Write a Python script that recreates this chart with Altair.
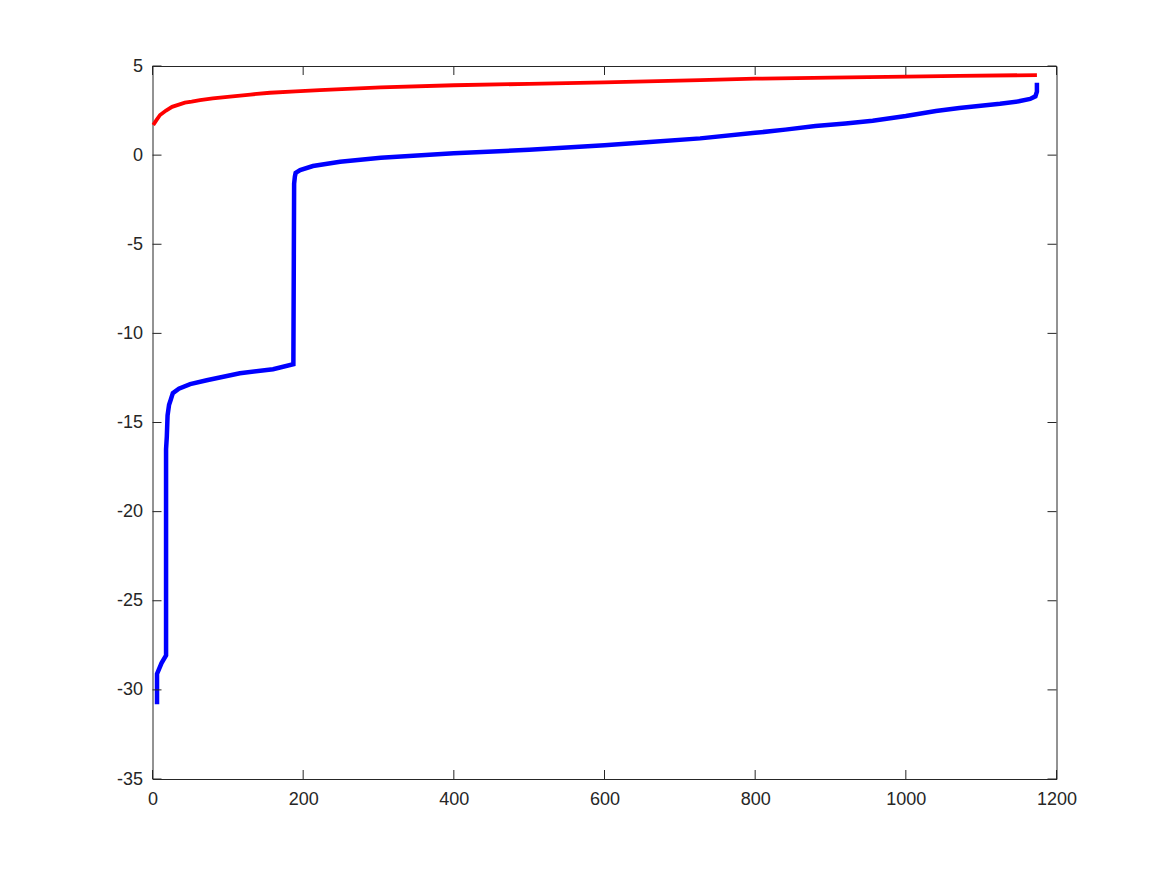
import altair as alt
import pandas as pd

# Blue series (sorted values)
blue_x = [6, 6, 6, 12, 18, 18, 19, 20, 22, 24, 27, 35, 50, 72, 116, 160, 187,
          188, 189, 190, 196, 213, 249, 303, 400, 500, 600, 660, 727, 800, 840,
          880, 920, 956, 1000, 1040, 1071, 1125, 1150, 1165, 1172, 1174, 1174]
blue_y = [-30.8, -29.9, -29.1, -28.5, -28.07, -16.5, -15.8, -14.6, -14.0, -13.75,
          -13.35, -13.1, -12.85, -12.63, -12.24, -12.01, -11.73,
          -1.6, -1.2, -1.0, -0.84, -0.61, -0.37, -0.15, 0.1, 0.3, 0.56, 0.73,
          0.94, 1.25, 1.43, 1.63, 1.78, 1.93, 2.19, 2.47, 2.64, 2.88, 3.02,
          3.15, 3.3, 3.56, 4.06]

# Red series
red_x = [1, 5, 10, 18, 26, 35, 43, 52, 63, 80, 103, 130, 156, 190, 222, 303,
         400, 500, 600, 727, 800, 900, 1000, 1071, 1174]
red_y = [1.69, 1.95, 2.25, 2.5, 2.71, 2.83, 2.94, 3.0, 3.09, 3.18, 3.28, 3.4,
         3.5, 3.58, 3.65, 3.8, 3.92, 4.0, 4.08, 4.21, 4.29, 4.35, 4.4, 4.45, 4.49]

x_ticks = [0, 200, 400, 600, 800, 1000, 1200]
y_ticks = [-35, -30, -25, -20, -15, -10, -5, 0, 5]

W, H = 904, 713
TICK = 9

blue_df = pd.DataFrame({"x": blue_x, "y": blue_y, "i": range(len(blue_x))})
red_df = pd.DataFrame({"x": red_x, "y": red_y, "i": range(len(red_x))})
xt_df = pd.DataFrame({"t": x_ticks})
yt_df = pd.DataFrame({"t": y_ticks})

xscale = alt.Scale(domain=[0, 1200], nice=False, zero=False)
yscale = alt.Scale(domain=[-35, 5], nice=False, zero=False)

xaxis = alt.Axis(values=x_ticks, ticks=False, domain=False, grid=False,
                 labelPadding=11, labelFontSize=18, labelColor="#262626",
                 labelFont="Liberation Sans", labelFlush=False,
                 labelExpr="'' + datum.value", title=None)
yaxis = alt.Axis(values=y_ticks, ticks=False, domain=False, grid=False,
                 labelPadding=10, labelFontSize=18, labelColor="#262626",
                 labelFont="Liberation Sans", labelFlush=False,
                 labelExpr="'' + datum.value", title=None)

blue = alt.Chart(blue_df).mark_line(color="#0000FF", strokeWidth=4.5).encode(
    x=alt.X("x:Q", scale=xscale, axis=xaxis),
    y=alt.Y("y:Q", scale=yscale, axis=yaxis),
    order="i:Q",
)
red = alt.Chart(red_df).mark_line(color="#FF0000", strokeWidth=3.8).encode(
    x=alt.X("x:Q", scale=xscale),
    y=alt.Y("y:Q", scale=yscale),
    order="i:Q",
)

tick_style = dict(color="#262626", strokeWidth=1)
bottom_ticks = alt.Chart(xt_df).mark_rule(**tick_style).encode(
    x=alt.X("t:Q", scale=xscale), y=alt.value(H), y2=alt.value(H - TICK))
top_ticks = alt.Chart(xt_df).mark_rule(**tick_style).encode(
    x=alt.X("t:Q", scale=xscale), y=alt.value(0), y2=alt.value(TICK))
left_ticks = alt.Chart(yt_df).mark_rule(**tick_style).encode(
    y=alt.Y("t:Q", scale=yscale), x=alt.value(0), x2=alt.value(TICK))
right_ticks = alt.Chart(yt_df).mark_rule(**tick_style).encode(
    y=alt.Y("t:Q", scale=yscale), x=alt.value(W), x2=alt.value(W - TICK))

chart = alt.layer(blue, red, bottom_ticks, top_ticks, left_ticks, right_ticks).properties(
    width=W, height=H,
    autosize=alt.AutoSizeParams(type="none"),
    padding={"left": 144.5, "top": 58, "right": 100, "bottom": 60},
    background="white",
).configure_view(stroke="#262626", strokeWidth=1)

chart.save("out.html", embed_options={"renderer": "svg", "actions": False})
